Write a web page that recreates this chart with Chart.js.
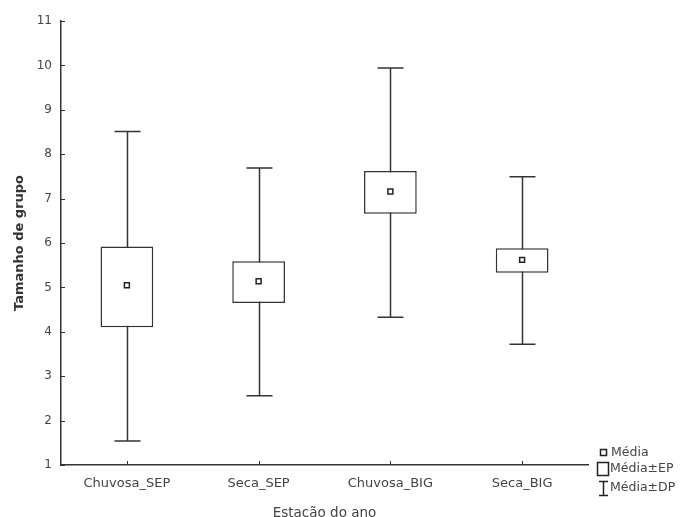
<!DOCTYPE html>
<html>
<head>
<meta charset="utf-8">
<script src="https://cdn.jsdelivr.net/npm/chart.js@4"></script>
<style>
  html, body { margin: 0; padding: 0; background: #fff; }
  #wrap { width: 680px; height: 517px; }
</style>
</head>
<body>
<div id="wrap"><canvas id="chart" width="680" height="517"></canvas></div>
<script>
// values
const categories = ['Chuvosa_SEP', 'Seca_SEP', 'Chuvosa_BIG', 'Seca_BIG'];
const means  = [5.05, 5.14, 7.16, 5.62];
const seLow  = [4.10, 4.65, 6.66, 5.33];
const seHigh = [5.92, 5.59, 7.62, 5.88];
const sdLow  = [1.54, 2.56, 4.33, 3.72];
const sdHigh = [8.51, 7.69, 9.94, 7.49];
const yTicks = [1, 2, 3, 4, 5, 6, 7, 8, 9, 10, 11];

const ink = '#333333';
const textColor = '#444444';
const font = '"DejaVu Sans", Verdana, sans-serif';

// whiskers (mean ± SD) drawn behind the boxes
const whiskerPlugin = {
  id: 'whiskers',
  beforeDatasetsDraw(chart) {
    const { ctx, scales: { x, y } } = chart;
    ctx.save();
    ctx.strokeStyle = ink;
    ctx.lineWidth = 1.5;
    categories.forEach((c, i) => {
      const px = Math.round(x.getPixelForValue(i)) + 0.5;
      const top = y.getPixelForValue(sdHigh[i]);
      const bot = y.getPixelForValue(sdLow[i]);
      ctx.beginPath();
      ctx.moveTo(px, top); ctx.lineTo(px, bot);
      ctx.moveTo(px - 13, top); ctx.lineTo(px + 13, top);
      ctx.moveTo(px - 13, bot); ctx.lineTo(px + 13, bot);
      ctx.stroke();
    });
    ctx.restore();
  }
};

// inward tick marks + legend
const extrasPlugin = {
  id: 'extras',
  afterDraw(chart) {
    const { ctx, scales: { x, y }, chartArea } = chart;
    ctx.save();
    ctx.strokeStyle = ink;
    ctx.lineWidth = 1;
    ctx.beginPath();
    yTicks.forEach(v => {
      const py = Math.round(y.getPixelForValue(v)) + 0.5;
      ctx.moveTo(chartArea.left, py); ctx.lineTo(chartArea.left + 4, py);
    });
    categories.forEach((c, i) => {
      const px = Math.round(x.getPixelForValue(i)) + 0.5;
      ctx.moveTo(px, chartArea.bottom); ctx.lineTo(px, chartArea.bottom - 4);
    });
    ctx.stroke();

    // legend
    ctx.lineWidth = 1.5;
    ctx.strokeStyle = '#222';
    ctx.strokeRect(600.5, 449.5, 6, 6);
    ctx.strokeRect(597.5, 462.5, 11, 13);
    ctx.beginPath();
    ctx.moveTo(599, 481.5); ctx.lineTo(608, 481.5);
    ctx.moveTo(603.5, 481.5); ctx.lineTo(603.5, 495);
    ctx.moveTo(599, 495.5); ctx.lineTo(608, 495.5);
    ctx.stroke();
    ctx.fillStyle = textColor;
    ctx.font = '12.5px ' + font;
    ctx.textBaseline = 'middle';
    ctx.textAlign = 'left';
    ctx.fillText('Média', 611, 453);
    ctx.fillText('Média±EP', 610, 469);
    ctx.fillText('Média±DP', 610, 488);
    ctx.restore();
  }
};

new Chart(document.getElementById('chart'), {
  data: {
    labels: categories,
    datasets: [
      {
        type: 'line',
        label: 'Média',
        data: means,
        showLine: false,
        pointStyle: 'rect',
        pointRadius: 3.5,
        pointBorderWidth: 1.5,
        pointBorderColor: '#222',
        pointBackgroundColor: '#fff',
        order: 0
      },
      {
        type: 'bar',
        label: 'Média±EP',
        data: categories.map((c, i) => [seLow[i], seHigh[i]]),
        backgroundColor: '#fff',
        borderColor: ink,
        borderWidth: 1.5,
        borderSkipped: false,
        barPercentage: 0.4,
        categoryPercentage: 1,
        order: 1
      }
    ]
  },
  options: {
    responsive: false,
    animation: false,
    layout: { padding: { top: 21, right: 92, left: 0, bottom: 0 } },
    plugins: { legend: { display: false }, tooltip: { enabled: false } },
    scales: {
      x: {
        type: 'category',
        offset: true,
        grid: { display: false, drawTicks: false },
        border: { display: true, color: ink, width: 1.5 },
        ticks: { color: textColor, font: { family: font, size: 13 }, padding: 11, maxRotation: 0 },
        title: { display: true, text: 'Estacão do ano', color: textColor, font: { family: font, size: 13.5 }, padding: { top: 0, bottom: -5 } },
        afterFit(scale) { scale.height = 52; }
      },
      y: {
        min: 1,
        max: 11,
        grid: { display: false, drawTicks: false },
        border: { display: true, color: ink, width: 1.5 },
        afterBuildTicks(scale) { scale.ticks = yTicks.map(v => ({ value: v })); },
        ticks: { color: textColor, font: { family: font, size: 12 }, padding: 9 },
        title: { display: true, text: 'Tamanho de grupo', color: ink, font: { family: font, size: 13, weight: 'bold' }, padding: { top: 12 } },
        afterFit(scale) { scale.width = 61; }
      }
    }
  },
  plugins: [whiskerPlugin, extrasPlugin]
});
</script>
</body>
</html>
